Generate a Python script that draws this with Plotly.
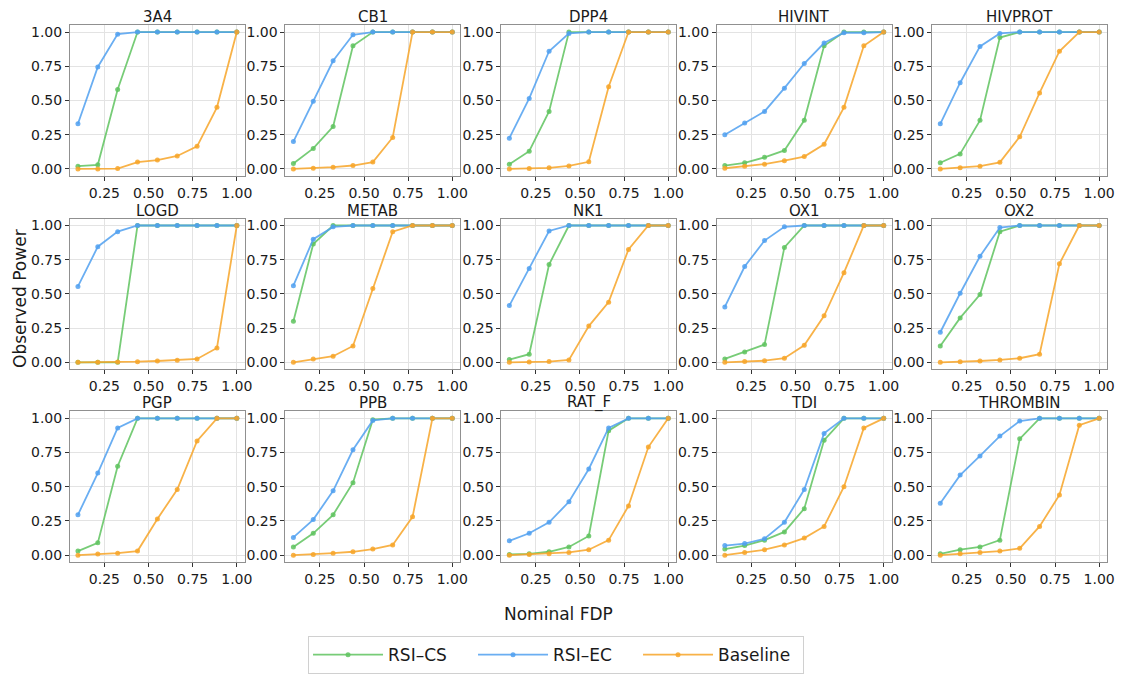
import plotly.graph_objects as go

nominal_fdp = [0.1, 0.2125, 0.325, 0.4375, 0.55, 0.6625, 0.775, 0.8875, 1.0]
datasets = ["3A4", "CB1", "DPP4", "HIVINT", "HIVPROT",
            "LOGD", "METAB", "NK1", "OX1", "OX2",
            "PGP", "PPB", "RAT_F", "TDI", "THROMBIN"]

rsi_cs = {
    "3A4":      [0.02, 0.03, 0.58, 1.0, 1.0, 1.0, 1.0, 1.0, 1.0],
    "CB1":      [0.04, 0.15, 0.31, 0.90, 1.0, 1.0, 1.0, 1.0, 1.0],
    "DPP4":     [0.035, 0.13, 0.42, 1.0, 1.0, 1.0, 1.0, 1.0, 1.0],
    "HIVINT":   [0.025, 0.045, 0.085, 0.135, 0.355, 0.90, 1.0, 1.0, 1.0],
    "HIVPROT":  [0.045, 0.11, 0.355, 0.96, 1.0, 1.0, 1.0, 1.0, 1.0],
    "LOGD":     [0.0, 0.0, 0.0, 1.0, 1.0, 1.0, 1.0, 1.0, 1.0],
    "METAB":    [0.30, 0.865, 1.0, 1.0, 1.0, 1.0, 1.0, 1.0, 1.0],
    "NK1":      [0.02, 0.06, 0.715, 1.0, 1.0, 1.0, 1.0, 1.0, 1.0],
    "OX1":      [0.025, 0.075, 0.13, 0.84, 1.0, 1.0, 1.0, 1.0, 1.0],
    "OX2":      [0.12, 0.325, 0.495, 0.955, 1.0, 1.0, 1.0, 1.0, 1.0],
    "PGP":      [0.03, 0.09, 0.65, 1.0, 1.0, 1.0, 1.0, 1.0, 1.0],
    "PPB":      [0.06, 0.16, 0.295, 0.53, 0.99, 1.0, 1.0, 1.0, 1.0],
    "RAT_F":    [0.005, 0.01, 0.025, 0.06, 0.14, 0.91, 1.0, 1.0, 1.0],
    "TDI":      [0.045, 0.07, 0.11, 0.17, 0.34, 0.84, 1.0, 1.0, 1.0],
    "THROMBIN": [0.01, 0.04, 0.06, 0.11, 0.85, 1.0, 1.0, 1.0, 1.0],
}

rsi_ec = {
    "3A4":      [0.33, 0.745, 0.985, 1.0, 1.0, 1.0, 1.0, 1.0, 1.0],
    "CB1":      [0.20, 0.495, 0.79, 0.98, 1.0, 1.0, 1.0, 1.0, 1.0],
    "DPP4":     [0.225, 0.515, 0.86, 0.99, 1.0, 1.0, 1.0, 1.0, 1.0],
    "HIVINT":   [0.25, 0.335, 0.42, 0.59, 0.77, 0.92, 0.995, 0.995, 1.0],
    "HIVPROT":  [0.33, 0.63, 0.895, 0.99, 1.0, 1.0, 1.0, 1.0, 1.0],
    "LOGD":     [0.555, 0.845, 0.955, 1.0, 1.0, 1.0, 1.0, 1.0, 1.0],
    "METAB":    [0.56, 0.90, 0.99, 1.0, 1.0, 1.0, 1.0, 1.0, 1.0],
    "NK1":      [0.415, 0.685, 0.96, 1.0, 1.0, 1.0, 1.0, 1.0, 1.0],
    "OX1":      [0.405, 0.70, 0.89, 0.99, 1.0, 1.0, 1.0, 1.0, 1.0],
    "OX2":      [0.22, 0.505, 0.775, 0.985, 1.0, 1.0, 1.0, 1.0, 1.0],
    "PGP":      [0.295, 0.60, 0.93, 1.0, 1.0, 1.0, 1.0, 1.0, 1.0],
    "PPB":      [0.13, 0.26, 0.47, 0.77, 0.985, 1.0, 1.0, 1.0, 1.0],
    "RAT_F":    [0.105, 0.16, 0.24, 0.39, 0.63, 0.93, 1.0, 1.0, 1.0],
    "TDI":      [0.07, 0.085, 0.12, 0.24, 0.48, 0.89, 1.0, 1.0, 1.0],
    "THROMBIN": [0.38, 0.585, 0.725, 0.87, 0.98, 1.0, 1.0, 1.0, 1.0],
}

baseline = {
    "3A4":      [0.0, 0.0, 0.003, 0.05, 0.065, 0.095, 0.165, 0.45, 1.0],
    "CB1":      [0.0, 0.005, 0.013, 0.025, 0.05, 0.23, 1.0, 1.0, 1.0],
    "DPP4":     [0.0, 0.003, 0.008, 0.022, 0.052, 0.60, 1.0, 1.0, 1.0],
    "HIVINT":   [0.005, 0.02, 0.035, 0.06, 0.09, 0.18, 0.45, 0.90, 1.0],
    "HIVPROT":  [0.0, 0.008, 0.02, 0.048, 0.235, 0.555, 0.86, 1.0, 1.0],
    "LOGD":     [0.0, 0.0, 0.002, 0.005, 0.01, 0.015, 0.025, 0.105, 1.0],
    "METAB":    [0.0, 0.025, 0.045, 0.12, 0.54, 0.955, 1.0, 1.0, 1.0],
    "NK1":      [0.0, 0.003, 0.006, 0.018, 0.265, 0.44, 0.825, 1.0, 1.0],
    "OX1":      [0.0, 0.007, 0.012, 0.03, 0.125, 0.34, 0.655, 1.0, 1.0],
    "OX2":      [0.0, 0.004, 0.01, 0.018, 0.03, 0.06, 0.72, 1.0, 1.0],
    "PGP":      [0.0, 0.008, 0.015, 0.03, 0.265, 0.48, 0.835, 1.0, 1.0],
    "PPB":      [0.0, 0.005, 0.015, 0.025, 0.045, 0.075, 0.28, 1.0, 1.0],
    "RAT_F":    [0.0, 0.005, 0.01, 0.02, 0.04, 0.11, 0.36, 0.79, 1.0],
    "TDI":      [0.0, 0.02, 0.04, 0.075, 0.125, 0.21, 0.50, 0.93, 1.0],
    "THROMBIN": [0.0, 0.01, 0.02, 0.03, 0.05, 0.21, 0.44, 0.95, 1.0],
}

series = [("RSI–CS", rsi_cs, "rgba(95,195,95,0.85)"),
          ("RSI–EC", rsi_ec, "rgba(80,160,240,0.85)"),
          ("Baseline", baseline, "rgba(247,165,40,0.85)")]

x_ticks = [0.25, 0.5, 0.75, 1.0]
x_ticktext = ["0.25", "0.50", "0.75", "1.00"]
y_ticks = [0.0, 0.25, 0.5, 0.75, 1.0]
y_ticktext = ["0.00", "0.25", "0.50", "0.75", "1.00"]

W, H = 1127, 675
col_left = [70.5, 287.5, 505.0, 722.0, 939.0]
col_w = 176.0
row_top = [24.3, 218.3, 411.7]
row_h = 151.0

FONT = "DejaVu Sans"
fig = go.Figure()
annotations = []
layout_axes = {}

for i, name in enumerate(datasets):
    r, c = divmod(i, 5)
    k = i + 1
    xa = "x" if k == 1 else f"x{k}"
    ya = "y" if k == 1 else f"y{k}"
    for label, data, color in series:
        fig.add_trace(go.Scatter(
            x=nominal_fdp, y=data[name], mode="lines+markers", name=label,
            line=dict(color=color, width=1.8),
            marker=dict(color=color, size=5),
            xaxis=xa, yaxis=ya, showlegend=(i == 0), legendgroup=label))
    x0 = col_left[c] / W
    x1 = (col_left[c] + col_w) / W
    y1 = 1 - row_top[r] / H
    y0 = 1 - (row_top[r] + row_h) / H
    axcommon = dict(showline=True, mirror=True, linecolor="#909090", linewidth=1,
                    showgrid=True, gridcolor="#e3e3e3", gridwidth=1,
                    ticks="outside", ticklen=4, tickcolor="#333",
                    tickfont=dict(family=FONT, size=14, color="#1a1a1a"),
                    zeroline=False)
    layout_axes["xaxis" if k == 1 else f"xaxis{k}"] = dict(
        domain=[x0, x1], anchor=ya, range=[0.055, 1.045],
        tickvals=x_ticks, ticktext=x_ticktext, **axcommon)
    layout_axes["yaxis" if k == 1 else f"yaxis{k}"] = dict(
        domain=[y0, y1], anchor=xa, range=[-0.05, 1.05],
        tickvals=y_ticks, ticktext=y_ticktext, **axcommon)
    annotations.append(dict(
        text=name, x=(x0 + x1) / 2, y=y1, xref="paper", yref="paper",
        xanchor="center", yanchor="bottom", yshift=-2, borderpad=0, showarrow=False,
        font=dict(family=FONT, size=15, color="#1a1a1a")))

annotations.append(dict(text="Nominal FDP", x=562 / W, y=1 - 615 / H,
                        xref="paper", yref="paper", xanchor="center", yanchor="middle",
                        showarrow=False, font=dict(family=FONT, size=17, color="#1a1a1a")))
annotations.append(dict(text="Observed Power", x=20 / W, y=1 - 298 / H,
                        xref="paper", yref="paper", xanchor="center", yanchor="middle",
                        textangle=-90, showarrow=False,
                        font=dict(family=FONT, size=17, color="#1a1a1a")))

fig.update_layout(
    width=W, height=H, margin=dict(l=0, r=0, t=0, b=0),
    paper_bgcolor="white", plot_bgcolor="white",
    font=dict(family=FONT, color="#1a1a1a"),
    annotations=annotations,
    legend=dict(orientation="h", x=560 / W, xanchor="center", y=1 - 637 / H,
                yanchor="top", bordercolor="#d0d0d0", borderwidth=1,
                font=dict(family=FONT, size=17, color="#1a1a1a"),
                entrywidth=80, entrywidthmode="pixels", itemwidth=70),
    **layout_axes)

fig.write_html("out.html")
